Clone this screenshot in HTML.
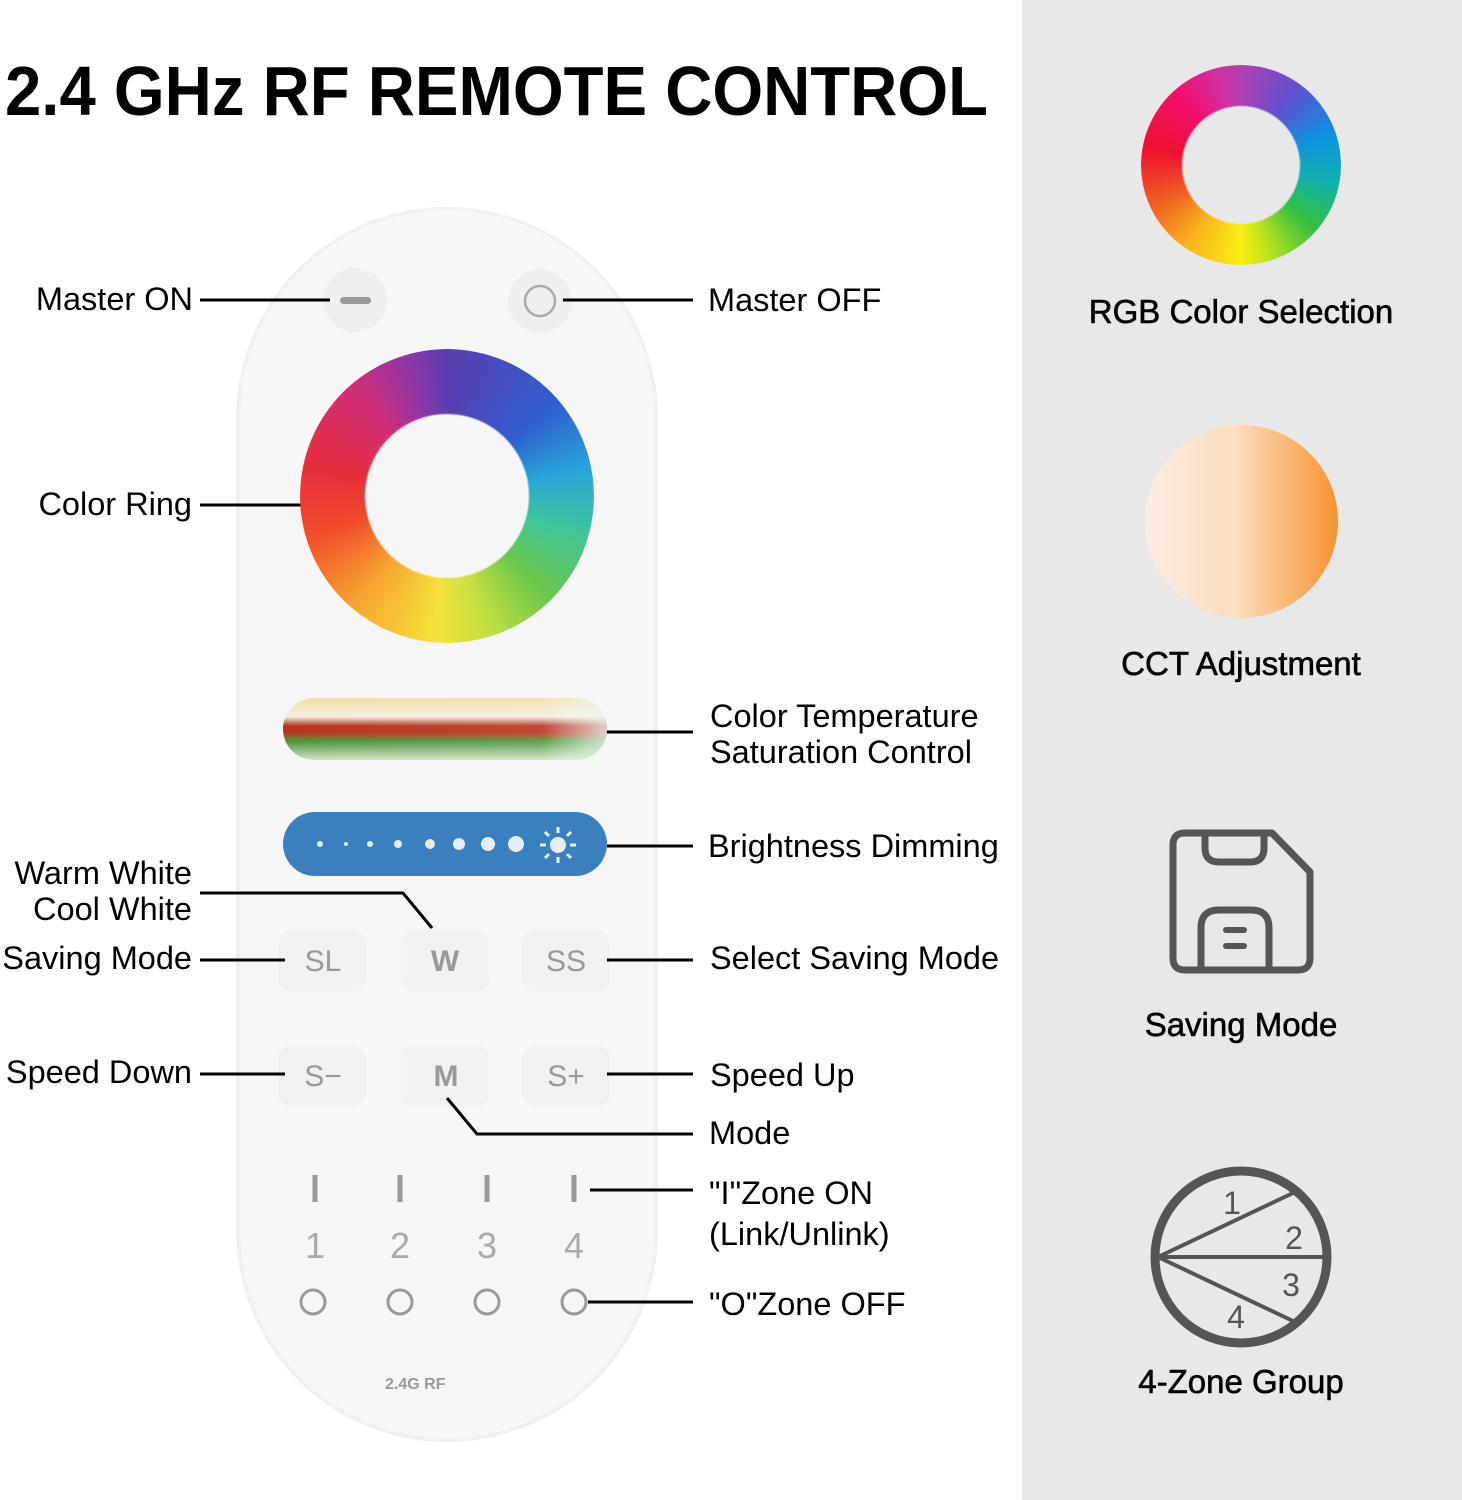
<!DOCTYPE html>
<html><head><meta charset="utf-8">
<style>
html,body{margin:0;padding:0;background:#fff;}
svg{display:block;font-family:"Liberation Sans",sans-serif;}
.ring1{position:absolute;left:300px;top:349px;width:294px;height:294px;border-radius:50%;
background:conic-gradient(#5a3db0 0deg,#2f5fd0 50deg,#2aa6d8 80deg,#3fc49a 105deg,#6cc84a 135deg,#c8e040 165deg,#f4e13a 185deg,#f7a531 220deg,#f04a2c 255deg,#e8303a 280deg,#d02d7a 320deg,#8a37a8 345deg,#5a3db0 360deg);
-webkit-mask:radial-gradient(circle,transparent 81px,#000 83px);mask:radial-gradient(circle,transparent 81px,#000 83px);}
.ring2{position:absolute;left:1141px;top:65px;width:200px;height:200px;border-radius:50%;
background:conic-gradient(#b040b0 0deg,#6050d0 35deg,#1090e0 70deg,#10b0b0 100deg,#30c040 130deg,#b0e020 160deg,#f8f010 180deg,#f8b020 215deg,#f06020 245deg,#f01030 280deg,#f01070 320deg,#d030a0 345deg,#b040b0 360deg);
-webkit-mask:radial-gradient(circle,transparent 58px,#000 60px);mask:radial-gradient(circle,transparent 58px,#000 60px);}
.cct{position:absolute;left:1145px;top:425px;width:193px;height:193px;border-radius:50%;
background:linear-gradient(90deg,#fbeee2 0%,#f9dcbc 50%,#fbd9b4 50%,#f8a85a 85%,#f6922e 100%);}
</style></head><body>
<div style="position:relative;width:1462px;height:1500px;overflow:hidden;">
<svg width="1462" height="1500" style="position:absolute;left:0;top:0">
<defs>
<linearGradient id="ct" x1="0" y1="0" x2="0" y2="1">
<stop offset="0" stop-color="#f0e0a0"/><stop offset="0.3" stop-color="#f4eee0"/><stop offset="0.45" stop-color="#b03a20"/><stop offset="0.55" stop-color="#c03020"/><stop offset="0.7" stop-color="#4a9a3a"/><stop offset="1" stop-color="#d8e0c8"/></linearGradient>
<linearGradient id="ctx" x1="0" y1="0" x2="1" y2="0">
<stop offset="0" stop-color="#fff" stop-opacity="0"/><stop offset="0.8" stop-color="#fff" stop-opacity="0.1"/><stop offset="1" stop-color="#e8f4f0" stop-opacity="0.8"/></linearGradient>
</defs>
<rect x="1022" y="0" width="440" height="1500" fill="#e8e8e8"/>
<text x="5" y="115" font-size="70" font-weight="bold" textLength="983" lengthAdjust="spacingAndGlyphs" fill="#000">2.4 GHz RF REMOTE CONTROL</text>
<rect x="236" y="207" width="422" height="1235" rx="211" fill="#f0f0f0"/>
<rect x="240" y="210" width="414" height="1228" rx="207" fill="#f6f6f6"/>
<circle cx="355" cy="300" r="32" fill="#efefef"/>
<rect x="340" y="297" width="31" height="7" rx="3.5" fill="#999"/>
<circle cx="540" cy="301" r="32" fill="#efefef"/>
<circle cx="540" cy="301" r="15" fill="none" stroke="#aaa" stroke-width="2.5"/>
<rect x="283" y="698" width="324" height="62" rx="31" fill="url(#ct)"/>
<rect x="283" y="698" width="324" height="62" rx="31" fill="url(#ctx)"/>
<rect x="283" y="812" width="324" height="64" rx="32" fill="#3a80bf"/>
<g fill="#e4eef8">
<circle cx="320" cy="844" r="3"/><circle cx="346" cy="844" r="2"/><circle cx="370" cy="844" r="3"/><circle cx="398" cy="844" r="4"/><circle cx="430" cy="844" r="5"/><circle cx="459" cy="844" r="6"/><circle cx="488" cy="844" r="7"/><circle cx="516" cy="844" r="8"/><circle cx="558" cy="845" r="8"/></g>
<g stroke="#e4eef8" stroke-width="3"><line x1="540" y1="845" x2="546" y2="845"/><line x1="570" y1="845" x2="576" y2="845"/><line x1="558" y1="827" x2="558" y2="833"/><line x1="558" y1="857" x2="558" y2="863"/><line x1="545" y1="832" x2="549" y2="836"/><line x1="567" y1="854" x2="571" y2="858"/><line x1="571" y1="832" x2="567" y2="836"/><line x1="549" y1="854" x2="545" y2="858"/></g>
<g fill="#f1f1f1"><rect x="278" y="930" width="88" height="62" rx="14"/><rect x="401" y="930" width="88" height="62" rx="14"/><rect x="522" y="930" width="88" height="62" rx="14"/><rect x="278" y="1045" width="88" height="62" rx="14"/><rect x="401" y="1045" width="88" height="62" rx="14"/><rect x="522" y="1045" width="88" height="62" rx="14"/></g>
<g fill="#999" font-size="30" text-anchor="middle">
<text x="323" y="971">SL</text><text x="445" y="971" font-weight="bold">W</text><text x="566" y="971">SS</text>
<text x="323" y="1086">S−</text><text x="446" y="1086" font-weight="bold">M</text><text x="566" y="1086">S+</text></g>
<g stroke="#999" stroke-width="5"><line x1="315" y1="1175" x2="315" y2="1202"/><line x1="400" y1="1175" x2="400" y2="1202"/><line x1="487" y1="1175" x2="487" y2="1202"/><line x1="574" y1="1175" x2="574" y2="1202"/></g>
<g fill="#aaa" font-size="36" text-anchor="middle"><text x="315" y="1258">1</text><text x="400" y="1258">2</text><text x="487" y="1258">3</text><text x="574" y="1258">4</text></g>
<g fill="none" stroke="#999" stroke-width="3"><circle cx="313" cy="1302" r="12"/><circle cx="400" cy="1302" r="12"/><circle cx="487" cy="1302" r="12"/><circle cx="574" cy="1302" r="12"/></g>
<text x="385" y="1389" font-size="16" font-weight="bold" fill="#999">2.4G RF</text>
<g stroke="#000" stroke-width="3" fill="none">
<line x1="200" y1="300" x2="330" y2="300"/>
<line x1="563" y1="300" x2="693" y2="300"/>
<line x1="200" y1="505" x2="315" y2="505"/>
<line x1="607" y1="732" x2="693" y2="732"/>
<line x1="607" y1="846" x2="693" y2="846"/>
<polyline points="200,893 403,893 432,928"/>
<line x1="200" y1="960" x2="285" y2="960"/>
<line x1="607" y1="960" x2="693" y2="960"/>
<line x1="200" y1="1074" x2="285" y2="1074"/>
<line x1="607" y1="1074" x2="693" y2="1074"/>
<polyline points="447,1098 477,1134 693,1134"/>
<line x1="590" y1="1190" x2="693" y2="1190"/>
<line x1="588" y1="1302" x2="693" y2="1302"/>
</g>
<g font-size="32.5" fill="#000">
<text x="193" y="310" text-anchor="end">Master ON</text>
<text x="708" y="311">Master OFF</text>
<text x="192" y="515" text-anchor="end">Color Ring</text>
<text x="710" y="727">Color Temperature</text>
<text x="710" y="763">Saturation Control</text>
<text x="708" y="857">Brightness Dimming</text>
<text x="192" y="884" text-anchor="end">Warm White</text>
<text x="192" y="920" text-anchor="end">Cool White</text>
<text x="192" y="969" text-anchor="end">Saving Mode</text>
<text x="710" y="969">Select Saving Mode</text>
<text x="192" y="1083" text-anchor="end">Speed Down</text>
<text x="710" y="1086">Speed Up</text>
<text x="709" y="1144">Mode</text>
<text x="709" y="1204">"I"Zone ON</text>
<text x="709" y="1245">(Link/Unlink)</text>
<text x="709" y="1315">"O"Zone OFF</text>
</g>
<g font-size="33" fill="#000" text-anchor="middle" stroke="#000" stroke-width="0.6">
<text x="1241" y="323">RGB Color Selection</text>
<text x="1241" y="675">CCT Adjustment</text>
<text x="1241" y="1036">Saving Mode</text>
<text x="1241" y="1393">4-Zone Group</text>
</g>
<g fill="none" stroke="#555" stroke-width="7" stroke-linejoin="round">
<path d="M1185,833 H1272 L1310,872 V958 Q1310,970 1298,970 H1185 Q1173,970 1173,958 V845 Q1173,833 1185,833 Z"/>
<path d="M1205,833 V848 Q1205,862 1219,862 H1250 Q1264,862 1264,848 V833"/>
<path d="M1201,970 V928 Q1201,910 1219,910 H1251 Q1269,910 1269,928 V970"/>
</g>
<g stroke="#555" stroke-width="6" stroke-linecap="round"><line x1="1226" y1="930" x2="1244" y2="930"/><line x1="1226" y1="946" x2="1244" y2="946"/></g>
<circle cx="1241" cy="1257" r="86" fill="none" stroke="#555" stroke-width="9"/>
<g stroke="#555" stroke-width="4"><line x1="1158" y1="1257" x2="1293" y2="1193"/><line x1="1158" y1="1257" x2="1327" y2="1257"/><line x1="1158" y1="1257" x2="1293" y2="1321"/></g>
<g fill="#555" font-size="32" text-anchor="middle"><text x="1232" y="1214">1</text><text x="1294" y="1249">2</text><text x="1291" y="1296">3</text><text x="1236" y="1328">4</text></g>
</svg>
<div class="ring1"></div>
<div class="ring2"></div>
<div class="cct"></div>
</div>
</body></html>
